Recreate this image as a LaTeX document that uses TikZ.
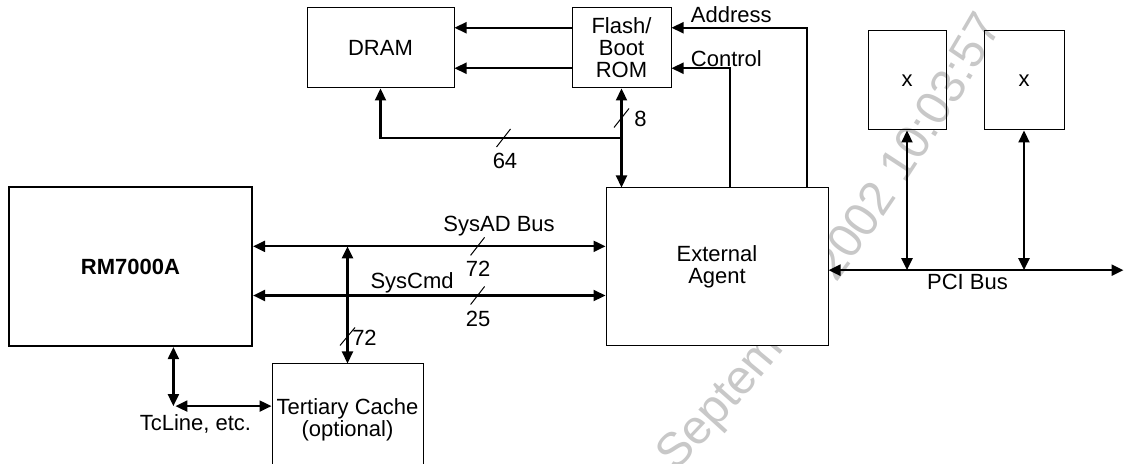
\documentclass[tikz,border=0pt]{standalone}
\usepackage{fontspec}
\setmainfont{Liberation Sans}
\usetikzlibrary{arrows.meta,calc,decorations.text}
\definecolor{wmgray}{RGB}{200,200,200}
\newcommand{\lblsize}{\fontsize{11}{11}\selectfont}
\newcommand{\wmsize}{\fontsize{24}{24}\selectfont}
\tikzset{
  btip/.tip={Triangle[length=6pt,width=5.5pt]},
  blk/.style={draw,line width=0.5pt,inner sep=0pt,align=center,font=\lblsize},
  bus/.style={line width=1.1pt,btip-btip},
  sig/.style={line width=1.1pt,-btip},
  tick/.style={line width=0.5pt},
  lbl/.style={inner sep=0pt,font=\lblsize}
}
\begin{document}
\begin{tikzpicture}[x=0.5pt,y=-0.5pt]
  \useasboundingbox (0,0) rectangle (1126,464);
  \path[decorate,decoration={text along path,text align=left,text color=wmgray,
      text={|\wmsize|September 2002 10:03:57}}]
    (675,472) .. controls (808,339) and (914,180) .. (1008,17);

  \node[blk,minimum width=73.5pt,minimum height=40pt] (dram) at (380.5,48) {DRAM};
  \node[blk,minimum width=49.5pt,minimum height=40pt] (flash) at (621.5,48) {Flash/\\Boot\\ROM};
  \node[blk,fill=white,minimum width=111pt,minimum height=79pt] (ea) at (717,267) {External\\Agent};
  \node[blk,line width=1.1pt,minimum width=121.5pt,minimum height=79.5pt,font=\lblsize\bfseries] (rm) at (130.5,266.5) {RM7000A};
  \node[blk,minimum width=75.5pt,minimum height=56pt] (tc) at (347.5,420) {Tertiary Cache\\(optional)};
  \node[blk,minimum width=39pt,minimum height=49.5pt] (xa) at (907,80.5) {x};
  \node[blk,minimum width=40pt,minimum height=49.5pt] (xb) at (1024,80.5) {x};

  \coordinate (f1) at ($(flash.north west)!.25!(flash.south west)$);
  \coordinate (f2) at ($(flash.north west)!.75!(flash.south west)$);
  \draw[sig] (f1) -- (dram.east |- f1);
  \draw[sig] (f2) -- (dram.east |- f2);
  \draw[sig] ($(ea.north west)!.905!(ea.north east)$) |- (flash.east |- f1);
  \draw[sig] ($(ea.north west)!.559!(ea.north east)$) |- (flash.east |- f2);
  \node[lbl,anchor=base west] (addr) at ($(flash.east |- f1)+(19,-5)$) {Address};
  \node[lbl,anchor=base west] (ctrl) at ($(flash.east |- f2)+(19,-1.5)$) {Control};

  \draw[bus] (flash.south) -- (flash.south |- ea.north);
  \coordinate (jn) at ($(flash.south)!.5!(flash.south |- ea.north)$);
  \draw[sig] (jn) -| (dram.south);
  \draw[tick] ($(jn)+(-7.5,-10.5)$) -- ++(15,-19);
  \node[lbl] (w8) at ($(jn)+(19,-19)$) {8};
  \draw[tick] ($(jn)+(-125,9)$) -- ++(14,-18);
  \node[lbl] (w64) at ($(jn)+(-116.5,23)$) {64};

  \coordinate (sad) at ($(rm.north east)!.375!(rm.south east)$);
  \coordinate (scmd) at ($(rm.north east)!.68!(rm.south east)$);
  \draw[bus] (sad) -- (sad -| ea.west);
  \draw[bus] (scmd) -- (scmd -| ea.west);
  \draw[tick] ($(sad)+(217.5,9)$) -- ++(14,-18);
  \draw[tick] ($(scmd)+(217.5,9)$) -- ++(14,-18);
  \node[lbl,anchor=base] (sadl) at ($(sad)+(246,-14.5)$) {SysAD Bus};
  \node[lbl] (w72a) at ($(sad)+(225,22.5)$) {72};
  \node[lbl,anchor=base] (scmdl) at ($(scmd)+(159,-7)$) {SysCmd};
  \node[lbl] (w25) at ($(scmd)+(225,23)$) {25};

  \draw[bus] (sad -| tc.north) -- (tc.north);
  \draw[tick] ($(tc.north)+(-7.5,-18)$) -- ++(15,-18);
  \node[lbl] (w72b) at ($(tc.north)+(17,-26)$) {72};

  \coordinate (tcl) at ($(rm.south west)!.675!(rm.south east)$);
  \coordinate (cn) at ($(tcl)+(0,59)$);
  \draw[bus] (tcl) -- (cn);
  \draw[bus] ($(cn)+(2,0)$) -- (cn -| tc.west);
  \node[lbl] (tcll) at ($(cn)+(22,18)$) {TcLine, etc.};

  \coordinate (pci) at ($(ea.north east)!.52!(ea.south east)$);
  \coordinate (pcir) at ($(pci)+(295,0)$);
  \draw[bus] (pci) -- (pcir);
  \draw[bus] (xa.south) -- (xa.south |- pci);
  \draw[bus] (xb.south) -- (xb.south |- pci);
  \node[lbl,anchor=base] (pcil) at ($(pci)+(139,19)$) {PCI Bus};
\end{tikzpicture}
\end{document}
